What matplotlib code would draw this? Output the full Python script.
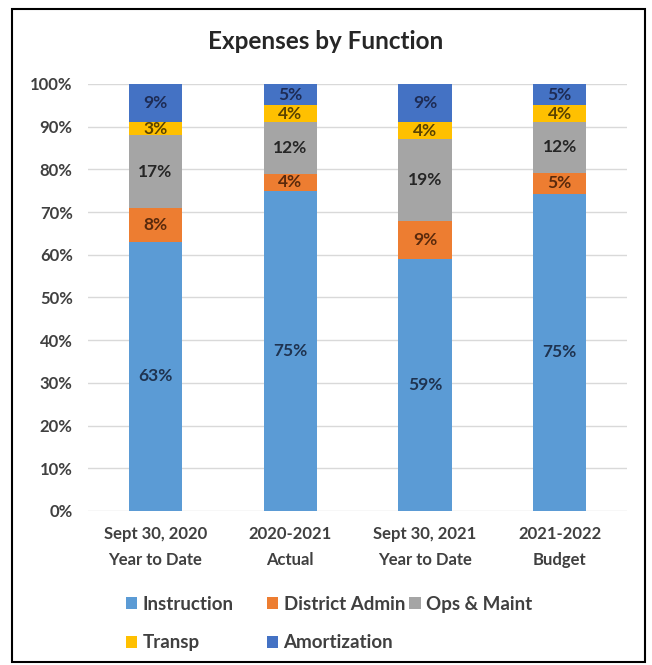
import numpy as np
import matplotlib.pyplot as plt
from matplotlib.patches import Rectangle

# categories on the x axis
periods = ["Sept 30, 2020\nYear to Date", "2020-2021\nActual",
           "Sept 30, 2021\nYear to Date", "2021-2022\nBudget"]

# percent shares as shown in the data labels
instruction = [63, 75, 59, 75]
district_admin = [8, 4, 9, 5]
ops_maint = [17, 12, 19, 12]
transp = [3, 4, 4, 4]
amortization = [9, 5, 9, 5]

series_names = ["Instruction", "District Admin", "Ops & Maint", "Transp", "Amortization"]
series_vals = [instruction, district_admin, ops_maint, transp, amortization]
colors = ["#5B9BD5", "#ED7D31", "#A5A5A5", "#FFC000", "#4472C4"]
label_colors = ["#1F3350", "#5A2A0C", "#262626", "#5A4300", "#1E2C55"]
y_ticks = [0, 10, 20, 30, 40, 50, 60, 70, 80, 90, 100]

plt.rcParams['font.family'] = ['Lato', 'DejaVu Sans']

fig = plt.figure(figsize=(6.52, 6.65), dpi=100)
ax = fig.add_axes([0.135, 0.2316, 0.8267, 0.6421])

vals = np.array(series_vals, dtype=float)
# 100% stacked: each column scaled to its own total
shares = vals / vals.sum(axis=0) * 100
x = np.arange(len(periods))
bottom = np.zeros(len(periods))
handles = []
for i in range(len(series_names)):
    b = ax.bar(x, shares[i], width=0.395, bottom=bottom, color=colors[i],
               label=series_names[i], zorder=3)
    handles.append(b)
    for j in range(len(periods)):
        ax.text(x[j], bottom[j] + shares[i][j] / 2, "%d%%" % vals[i][j],
                ha='center', va='center', fontsize=12.5, fontweight='bold',
                color=label_colors[i], zorder=4)
    bottom += shares[i]

ax.set_xlim(-0.5, 3.5)
ax.set_ylim(0, 100)
ax.set_yticks(y_ticks)
ax.set_yticklabels(["%d%%" % t for t in y_ticks])
ax.set_xticks(x)
ax.set_xticklabels(periods, linespacing=1.75)
ax.yaxis.grid(True, color="#D9D9D9", linewidth=1, zorder=0)
for s in ax.spines.values():
    s.set_visible(False)
ax.tick_params(axis='both', length=0, labelsize=12, labelcolor="#404040")
ax.tick_params(axis='y', pad=11)
ax.tick_params(axis='x', pad=11)
for lab in ax.get_xticklabels() + ax.get_yticklabels():
    lab.set_fontweight('bold')

fig.text(0.5, 0.937, "Expenses by Function", ha='center', va='center',
         fontsize=17.5, fontweight='bold', color="#262626")

# legend laid out like Excel: three columns at fixed positions, row-major
legend_cols = [([0, 3], 0.193), ([1, 4], 0.409), ([2], 0.628)]
for idx, xpos in legend_cols:
    leg = fig.legend([handles[k] for k in idx], [series_names[k] for k in idx],
                     loc='upper left', bbox_to_anchor=(xpos, 0.104), frameon=False,
                     borderpad=0, borderaxespad=0,
                     handlelength=0.6, handleheight=0.6, handletextpad=0.3,
                     labelspacing=1.15, prop={'size': 13.5, 'weight': 'bold'})
    for t in leg.get_texts():
        t.set_color("#404040")

fig.patches.append(Rectangle((0.018, 0.004), 0.971, 0.982, transform=fig.transFigure,
                             fill=False, edgecolor='black', linewidth=1.5))

fig.savefig("out.png", dpi=100)
